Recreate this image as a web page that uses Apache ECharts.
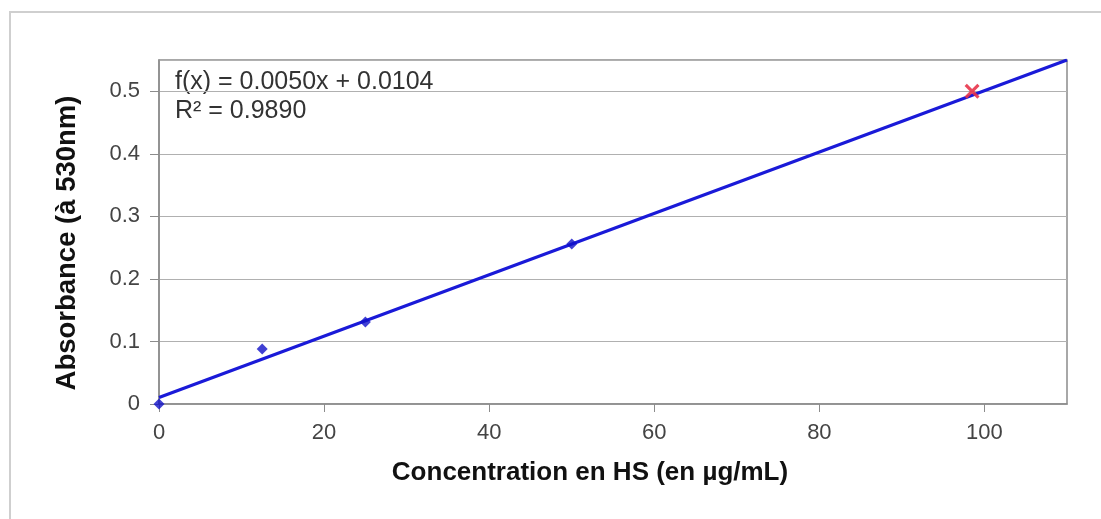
<!DOCTYPE html>
<html>
<head>
<meta charset="utf-8">
<script src="https://cdn.jsdelivr.net/npm/echarts@6/dist/echarts.min.js"></script>
<style>
  html, body { margin: 0; padding: 0; background: #fff; }
  #chart { width: 1101px; height: 519px; }
</style>
</head>
<body>
<div id="chart"></div>
<script>
// mesures (concentration en µg/mL, absorbance)
var concentrations = [0, 12.5, 25, 50];
var absorbances = [0, 0.088, 0.131, 0.256];
// droite de régression
var trendX = [0, 110];
var trendY = [0.0104, 0.55];
// échantillon inconnu (croix rouge)
var unknownX = [98.5];
var unknownY = [0.5];
var equationText = ["f(x) = 0.0050x + 0.0104", "R² = 0.9890"];

var myChart = echarts.init(document.getElementById("chart"));

function pairs(xs, ys) {
  return xs.map(function (x, i) { return [x, ys[i]]; });
}

myChart.setOption({
  animation: false,
  textStyle: { fontFamily: "Liberation Sans" },
  grid: {
    left: 159, top: 60, right: 34, bottom: 115,
    show: true, borderColor: "#8c8c8c", borderWidth: 1.5
  },
  graphic: [
    {
      type: "rect",
      shape: { x: 10, y: 12, width: 1200, height: 600 },
      style: { fill: "none", stroke: "#cfcfcf", lineWidth: 2 }
    },
    {
      type: "text", left: 175, top: 68,
      style: { text: equationText.join("\n"), font: "25px Liberation Sans", fill: "#333", lineHeight: 29 }
    }
  ],
  xAxis: {
    type: "value", min: 0, max: 110, interval: 20,
    name: "Concentration en HS (en µg/mL)",
    nameLocation: "middle", nameGap: 56,
    nameTextStyle: { fontSize: 26, fontWeight: "bold", color: "#111", padding: [0, 46, 0, 0] },
    axisLine: { show: true, lineStyle: { color: "#8c8c8c", width: 1.5 } },
    axisTick: { show: true, length: 8, lineStyle: { color: "#8c8c8c" } },
    axisLabel: { fontSize: 22, color: "#444", margin: 18, showMaxLabel: false },
    splitLine: { show: false }
  },
  yAxis: {
    type: "value", min: 0, max: 0.55, interval: 0.1,
    name: "Absorbance (à 530nm)",
    nameLocation: "middle", nameGap: 78,
    nameTextStyle: { fontSize: 27.5, fontWeight: "bold", color: "#111", padding: [0, 22, 0, 0] },
    nameRotate: 90,
    axisLine: { show: true, lineStyle: { color: "#8c8c8c", width: 1.5 } },
    axisTick: { show: true, length: 9, lineStyle: { color: "#8c8c8c" } },
    axisLabel: { fontSize: 22, color: "#444", margin: 19, showMaxLabel: false },
    splitLine: { show: true, lineStyle: { color: "#b0b0b0", width: 1.2 } }
  },
  series: [
    {
      name: "Tendance",
      type: "line",
      data: pairs(trendX, trendY),
      symbol: "none",
      lineStyle: { color: "#1a1ad8", width: 3.2 },
      clip: true,
      z: 3
    },
    {
      name: "Mesures",
      type: "scatter",
      data: pairs(concentrations, absorbances),
      symbol: "diamond",
      symbolSize: 11,
      itemStyle: { color: "#1010c8" },
      z: 4
    },
    {
      name: "Inconnu",
      type: "scatter",
      data: pairs(unknownX, unknownY),
      symbol: "path://M0,1.5 L1.5,0 L5,3.5 L8.5,0 L10,1.5 L6.5,5 L10,8.5 L8.5,10 L5,6.5 L1.5,10 L0,8.5 L3.5,5 Z",
      symbolSize: 15,
      itemStyle: { color: "#e8344a", opacity: 0.9 },
      z: 5
    }
  ]
});
</script>
</body>
</html>
